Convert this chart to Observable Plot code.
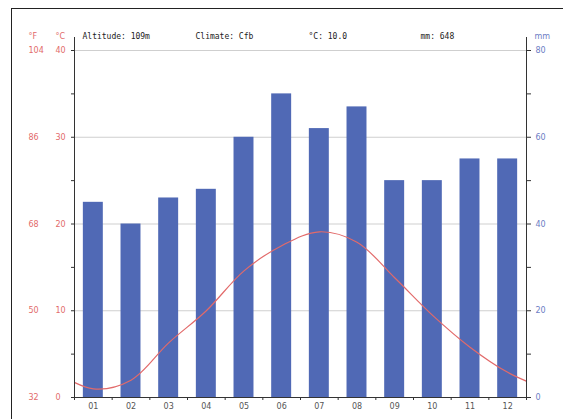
<!DOCTYPE html>
<html>
<head>
<meta charset="utf-8">
<script src="https://cdn.jsdelivr.net/npm/d3@7"></script>
<script src="https://cdn.jsdelivr.net/npm/@observablehq/plot@0.6"></script>
<style>
  html, body { margin: 0; padding: 0; background: #fff; overflow: hidden; }
  #wrap { position: relative; width: 563px; height: 419px; overflow: hidden; }
  #border { position: absolute; left: 11px; top: 8px; width: 700px; height: 600px; border-left: 1px solid #222; border-top: 1px solid #222; box-sizing: border-box; pointer-events: none; }
  #chart { position: absolute; left: 0; top: 0; }
</style>
</head>
<body>
<div id="wrap">
  <div id="chart"></div>
  <div id="border"></div>
</div>
<script>
// Monthly climate normals
const months = ["01", "02", "03", "04", "05", "06", "07", "08", "09", "10", "11", "12"];
const precipitation = [45, 40, 46, 48, 60, 70, 62, 67, 50, 50, 55, 55]; // mm
const temperature = [1.0, 2.0, 6.3, 10.0, 14.6, 17.5, 19.1, 17.9, 13.8, 9.5, 5.8, 2.9]; // °C

const altitude = "109m";
const climate = "Cfb";
const meanTemp = d3.mean(temperature);
const totalPrecip = d3.sum(precipitation);

const celsiusTicks = [0, 10, 20, 30, 40];
const minorTicks = [0, 5, 10, 15, 20, 25, 30, 35, 40];
const mmTicks = [0, 20, 40, 60, 80];

const red = "#e26a6a";
const blue = "#6c7cc4";
const barColor = "#5069b5";

const rows = months.map((label, i) => ({m: i + 1, label, mm: precipitation[i], t: temperature[i]}));
// wrap the year around so the curve runs to both edges
const tempLine = [
  {m: 0, t: temperature[11]},
  ...rows,
  {m: 13, t: temperature[0]}
];

const sans = "DejaVu Sans, sans-serif";
const mono = "DejaVu Sans Mono, monospace";

const chart = Plot.plot({
  width: 563,
  height: 419,
  marginLeft: 74,
  marginRight: 37,
  marginTop: 37,
  marginBottom: 22,
  style: {fontFamily: sans, fontSize: "8px", background: "transparent", overflow: "visible"},
  x: {domain: [0.5, 12.5], axis: null},
  y: {domain: [0, 41.5], axis: null},
  marks: [
    Plot.ruleY([10, 20, 30, 40], {stroke: "#cfcfcf", strokeWidth: 1}),
    Plot.rectY(rows, {x1: d => d.m - 0.265, x2: d => d.m + 0.265, y1: 0, y2: d => d.mm / 2, fill: barColor}),
    Plot.line(tempLine, {x: "m", y: "t", curve: "catmull-rom", stroke: red, strokeWidth: 1.2, clip: true}),
    // axis lines
    Plot.ruleX([0.5, 12.5], {stroke: "#333", strokeWidth: 1}),
    Plot.ruleY([0], {stroke: "#333", strokeWidth: 1}),
    // left ticks and labels (°C and °F)
    Plot.axisY({anchor: "left", ticks: minorTicks, tickSize: 3, tickFormat: () => "", stroke: "#333", label: null}),
    Plot.text(celsiusTicks, {y: d => d, frameAnchor: "left", dx: -19, textAnchor: "start", text: d => String(d), fill: red}),
    Plot.text(celsiusTicks, {y: d => d, frameAnchor: "left", dx: -46, textAnchor: "start", text: d => String(d * 9 / 5 + 32), fill: red}),
    // right ticks and labels (mm)
    Plot.axisY({anchor: "right", ticks: minorTicks, tickSize: 4, tickFormat: () => "", stroke: "#333", label: null}),
    Plot.text(mmTicks, {y: d => d / 2, frameAnchor: "right", dx: 9, textAnchor: "start", text: d => String(d), fill: blue}),
    // month ticks and labels
    Plot.axisX({anchor: "bottom", ticks: d3.range(0.5, 13, 1), tickSize: 3, tickFormat: () => "", stroke: "#333", label: null}),
    Plot.text(rows, {x: "m", frameAnchor: "bottom", dy: 11, text: "label", fill: "#555"}),
    // header
    Plot.text(["°F"], {frameAnchor: "top-left", dx: -46, dy: -4, textAnchor: "start", text: d => d, fill: red}),
    Plot.text(["°C"], {frameAnchor: "top-left", dx: -19, dy: -4, textAnchor: "start", text: d => d, fill: red}),
    Plot.text(["mm"], {frameAnchor: "top-right", dx: 8, dy: -4, textAnchor: "start", text: d => d, fill: blue}),
    Plot.text([`Altitude: ${altitude}`], {frameAnchor: "top-left", dx: 8, dy: -4, textAnchor: "start", text: d => d, fill: "#222", fontFamily: mono}),
    Plot.text([`Climate: ${climate}`], {frameAnchor: "top-left", dx: 121, dy: -4, textAnchor: "start", text: d => d, fill: "#222", fontFamily: mono}),
    Plot.text([`°C: ${meanTemp.toFixed(1)}`], {frameAnchor: "top-left", dx: 234, dy: -4, textAnchor: "start", text: d => d, fill: "#222", fontFamily: mono}),
    Plot.text([`mm: ${totalPrecip}`], {frameAnchor: "top-left", dx: 346, dy: -4, textAnchor: "start", text: d => d, fill: "#222", fontFamily: mono})
  ]
});
document.getElementById("chart").appendChild(chart);
</script>
</body>
</html>
